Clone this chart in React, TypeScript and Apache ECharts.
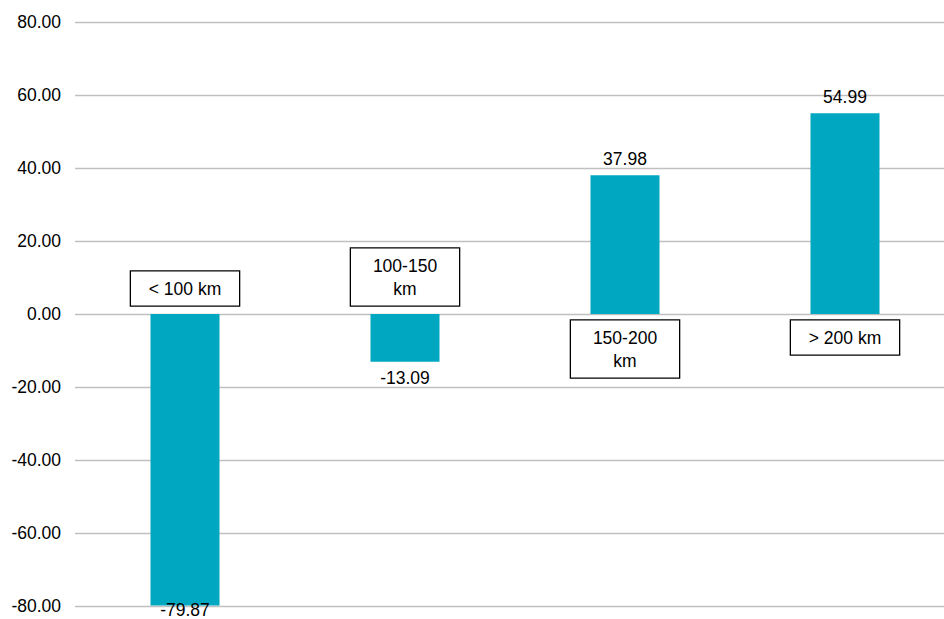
import React, { useEffect, useRef } from "react";
import * as echarts from "echarts";

const categories = ["< 100 km", "100-150\nkm", "150-200\nkm", "> 200 km"];
const values = [-79.87, -13.09, 37.98, 54.99];
const yMin = -80;
const yMax = 80;
const yInterval = 20;

const FONT = "'Liberation Sans', Arial, sans-serif";
const FS = 17.5;

export default function App() {
  const ref = useRef<HTMLDivElement>(null);
  useEffect(() => {
    if (!ref.current) return;
    const chart = echarts.init(ref.current, null, { renderer: "svg" });
    chart.setOption({
      animation: false,
      grid: { left: 75, right: 0, top: 22, bottom: 13, containLabel: false },
      xAxis: {
        type: "category",
        data: categories,
        axisLine: { show: false },
        axisTick: { show: false },
        axisLabel: { show: false },
      },
      yAxis: {
        type: "value",
        min: yMin,
        max: yMax,
        interval: yInterval,
        axisLine: { show: false },
        axisTick: { show: false },
        axisLabel: {
          formatter: (v: number) => v.toFixed(2),
          fontSize: FS,
          fontFamily: FONT,
          color: "#000",
          margin: 14,
        },
        splitLine: { lineStyle: { color: "#c0c0c0", width: 1.3 } },
      },
      series: [
        {
          type: "bar",
          data: values.map((v) => ({
            value: v,
            // keep the label inside the picture when the bar reaches the axis end
            label: { distance: v - yMin < 2 ? -5 : 7 },
          })),
          barWidth: 69,
          itemStyle: { color: "#00a7c1" },
          label: {
            show: true,
            position: "outside",
            formatter: (p: any) => Number(p.value).toFixed(2),
            fontSize: FS,
            fontFamily: FONT,
            color: "#000",
          },
          z: 2,
        },
        {
          type: "scatter",
          symbolSize: 1,
          itemStyle: { color: "transparent", opacity: 1 },
          data: categories.map((c, i) => ({
            value: [i, 0],
            label: {
              position: values[i] < 0 ? "top" : "bottom",
              distance: values[i] < 0 ? 8 : 6,
            },
          })),
          label: {
            show: true,
            formatter: (p: any) => categories[p.dataIndex],
            fontSize: FS,
            fontFamily: FONT,
            color: "#000",
            lineHeight: 23,
            width: 108,
            align: "center",
            backgroundColor: "#fff",
            borderColor: "#000",
            borderWidth: 1.3,
            padding: [5.5, 0, 5.5, 0],
          },
          z: 3,
        },
      ],
    });
    return () => chart.dispose();
  }, []);
  return (
    <div
      style={{ position: "fixed", left: 0, top: 0, width: 944, height: 619, overflow: "hidden", background: "#fff" }}
    >
      <div ref={ref} style={{ width: 955, height: 619 }} />
    </div>
  );
}
